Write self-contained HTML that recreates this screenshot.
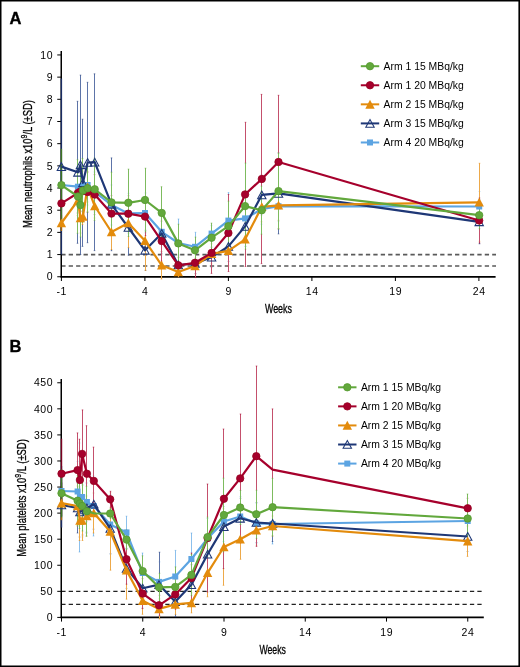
<!DOCTYPE html>
<html><head><meta charset="utf-8"><style>html,body{margin:0;padding:0;background:#fff;overflow:hidden}svg{display:block;will-change:transform}</style></head>
<body>
<svg width="520" height="667" viewBox="0 0 520 667">
<style>
text{font-family:"Liberation Sans",sans-serif;fill:#000}
.tk{font-size:10.5px;letter-spacing:0.6px}
.lg{font-size:10px}
.ti{font-size:12.8px;stroke:#000;stroke-width:0.3px}
.pl{font-size:16.5px;font-weight:bold;stroke:#000;stroke-width:0.35px}
</style>
<rect x="0" y="0" width="520" height="667" fill="#fff"/>
<path d="M0 0H520V667H0Z M1.5 1.5V665.4H518.4V1.5Z" fill="#000" fill-rule="evenodd"/>
<text x="9.6" y="23.8" class="pl">A</text>
<text x="9.5" y="351.9" class="pl">B</text>
<line x1="61.25" y1="254.60" x2="496" y2="254.60" stroke="#5a5a5a" stroke-width="1.7" stroke-dasharray="4.3 3.13"/>
<line x1="61.25" y1="266.00" x2="496" y2="266.00" stroke="#5a5a5a" stroke-width="1.7" stroke-dasharray="4.3 3.13"/>
<line x1="61.25" y1="51.0" x2="61.25" y2="277.60" stroke="#000" stroke-width="1.5"/>
<line x1="60.65" y1="276.80" x2="495.6" y2="276.80" stroke="#000" stroke-width="1.7"/>
<line x1="57.25" y1="276.75" x2="61.25" y2="276.75" stroke="#000" stroke-width="1"/>
<text x="53.25" y="280.45" class="tk" text-anchor="end">0</text>
<line x1="57.25" y1="254.57" x2="61.25" y2="254.57" stroke="#000" stroke-width="1"/>
<text x="53.25" y="258.27" class="tk" text-anchor="end">1</text>
<line x1="57.25" y1="232.39" x2="61.25" y2="232.39" stroke="#000" stroke-width="1"/>
<text x="53.25" y="236.09" class="tk" text-anchor="end">2</text>
<line x1="57.25" y1="210.21" x2="61.25" y2="210.21" stroke="#000" stroke-width="1"/>
<text x="53.25" y="213.91" class="tk" text-anchor="end">3</text>
<line x1="57.25" y1="188.03" x2="61.25" y2="188.03" stroke="#000" stroke-width="1"/>
<text x="53.25" y="191.73" class="tk" text-anchor="end">4</text>
<line x1="57.25" y1="165.85" x2="61.25" y2="165.85" stroke="#000" stroke-width="1"/>
<text x="53.25" y="169.55" class="tk" text-anchor="end">5</text>
<line x1="57.25" y1="143.67" x2="61.25" y2="143.67" stroke="#000" stroke-width="1"/>
<text x="53.25" y="147.37" class="tk" text-anchor="end">6</text>
<line x1="57.25" y1="121.49" x2="61.25" y2="121.49" stroke="#000" stroke-width="1"/>
<text x="53.25" y="125.19" class="tk" text-anchor="end">7</text>
<line x1="57.25" y1="99.31" x2="61.25" y2="99.31" stroke="#000" stroke-width="1"/>
<text x="53.25" y="103.01" class="tk" text-anchor="end">8</text>
<line x1="57.25" y1="77.13" x2="61.25" y2="77.13" stroke="#000" stroke-width="1"/>
<text x="53.25" y="80.83" class="tk" text-anchor="end">9</text>
<line x1="57.25" y1="54.95" x2="61.25" y2="54.95" stroke="#000" stroke-width="1"/>
<text x="53.25" y="58.65" class="tk" text-anchor="end">10</text>
<line x1="61.40" y1="276.80" x2="61.40" y2="281.00" stroke="#000" stroke-width="1"/>
<text x="61.70" y="295.00" class="tk" text-anchor="middle">-1</text>
<line x1="144.90" y1="276.80" x2="144.90" y2="281.00" stroke="#000" stroke-width="1"/>
<text x="145.20" y="295.00" class="tk" text-anchor="middle">4</text>
<line x1="228.40" y1="276.80" x2="228.40" y2="281.00" stroke="#000" stroke-width="1"/>
<text x="228.70" y="295.00" class="tk" text-anchor="middle">9</text>
<line x1="311.90" y1="276.80" x2="311.90" y2="281.00" stroke="#000" stroke-width="1"/>
<text x="312.20" y="295.00" class="tk" text-anchor="middle">14</text>
<line x1="395.40" y1="276.80" x2="395.40" y2="281.00" stroke="#000" stroke-width="1"/>
<text x="395.70" y="295.00" class="tk" text-anchor="middle">19</text>
<line x1="478.90" y1="276.80" x2="478.90" y2="281.00" stroke="#000" stroke-width="1"/>
<text x="479.20" y="295.00" class="tk" text-anchor="middle">24</text>
<line x1="61.25" y1="591.33" x2="482" y2="591.33" stroke="#222" stroke-width="1.15" stroke-dasharray="4.3 3.13"/>
<line x1="61.25" y1="604.37" x2="482" y2="604.37" stroke="#222" stroke-width="1.15" stroke-dasharray="4.3 3.13"/>
<line x1="61.25" y1="379.0" x2="61.25" y2="618.20" stroke="#000" stroke-width="1.5"/>
<line x1="60.65" y1="617.40" x2="483.8" y2="617.40" stroke="#000" stroke-width="1.7"/>
<line x1="57.25" y1="617.40" x2="61.25" y2="617.40" stroke="#000" stroke-width="1"/>
<text x="53.25" y="621.10" class="tk" text-anchor="end">0</text>
<line x1="57.25" y1="591.33" x2="61.25" y2="591.33" stroke="#000" stroke-width="1"/>
<text x="53.25" y="595.03" class="tk" text-anchor="end">50</text>
<line x1="57.25" y1="565.26" x2="61.25" y2="565.26" stroke="#000" stroke-width="1"/>
<text x="53.25" y="568.96" class="tk" text-anchor="end">100</text>
<line x1="57.25" y1="539.19" x2="61.25" y2="539.19" stroke="#000" stroke-width="1"/>
<text x="53.25" y="542.89" class="tk" text-anchor="end">150</text>
<line x1="57.25" y1="513.12" x2="61.25" y2="513.12" stroke="#000" stroke-width="1"/>
<text x="53.25" y="516.82" class="tk" text-anchor="end">200</text>
<line x1="57.25" y1="487.05" x2="61.25" y2="487.05" stroke="#000" stroke-width="1"/>
<text x="53.25" y="490.75" class="tk" text-anchor="end">250</text>
<line x1="57.25" y1="460.98" x2="61.25" y2="460.98" stroke="#000" stroke-width="1"/>
<text x="53.25" y="464.68" class="tk" text-anchor="end">300</text>
<line x1="57.25" y1="434.91" x2="61.25" y2="434.91" stroke="#000" stroke-width="1"/>
<text x="53.25" y="438.61" class="tk" text-anchor="end">350</text>
<line x1="57.25" y1="408.84" x2="61.25" y2="408.84" stroke="#000" stroke-width="1"/>
<text x="53.25" y="412.54" class="tk" text-anchor="end">400</text>
<line x1="57.25" y1="382.77" x2="61.25" y2="382.77" stroke="#000" stroke-width="1"/>
<text x="53.25" y="386.47" class="tk" text-anchor="end">450</text>
<line x1="61.50" y1="617.40" x2="61.50" y2="621.60" stroke="#000" stroke-width="1"/>
<text x="61.80" y="635.60" class="tk" text-anchor="middle">-1</text>
<line x1="142.75" y1="617.40" x2="142.75" y2="621.60" stroke="#000" stroke-width="1"/>
<text x="143.05" y="635.60" class="tk" text-anchor="middle">4</text>
<line x1="224.00" y1="617.40" x2="224.00" y2="621.60" stroke="#000" stroke-width="1"/>
<text x="224.30" y="635.60" class="tk" text-anchor="middle">9</text>
<line x1="305.25" y1="617.40" x2="305.25" y2="621.60" stroke="#000" stroke-width="1"/>
<text x="305.55" y="635.60" class="tk" text-anchor="middle">14</text>
<line x1="386.50" y1="617.40" x2="386.50" y2="621.60" stroke="#000" stroke-width="1"/>
<text x="386.80" y="635.60" class="tk" text-anchor="middle">19</text>
<line x1="467.75" y1="617.40" x2="467.75" y2="621.60" stroke="#000" stroke-width="1"/>
<text x="468.05" y="635.60" class="tk" text-anchor="middle">24</text>
<line x1="61.40" y1="165.00" x2="61.40" y2="205.00" stroke="#3D78A8" stroke-width="1.4"/>
<line x1="77.50" y1="166.70" x2="77.50" y2="206.70" stroke="#8CC0EC" stroke-width="1"/>
<rect x="76.70" y="166.20" width="1.6" height="1" fill="#5CA4E2" opacity="0.55"/>
<rect x="76.70" y="206.20" width="1.6" height="1" fill="#5CA4E2" opacity="0.55"/>
<line x1="80.50" y1="167.00" x2="80.50" y2="207.00" stroke="#8CC0EC" stroke-width="1"/>
<rect x="79.70" y="166.50" width="1.6" height="1" fill="#5CA4E2" opacity="0.55"/>
<rect x="79.70" y="206.50" width="1.6" height="1" fill="#5CA4E2" opacity="0.55"/>
<line x1="82.50" y1="166.00" x2="82.50" y2="206.00" stroke="#8CC0EC" stroke-width="1"/>
<rect x="81.70" y="165.50" width="1.6" height="1" fill="#5CA4E2" opacity="0.55"/>
<rect x="81.70" y="205.50" width="1.6" height="1" fill="#5CA4E2" opacity="0.55"/>
<line x1="87.50" y1="165.00" x2="87.50" y2="205.00" stroke="#8CC0EC" stroke-width="1"/>
<rect x="86.70" y="164.50" width="1.6" height="1" fill="#5CA4E2" opacity="0.55"/>
<rect x="86.70" y="204.50" width="1.6" height="1" fill="#5CA4E2" opacity="0.55"/>
<line x1="94.50" y1="172.00" x2="94.50" y2="212.00" stroke="#8CC0EC" stroke-width="1"/>
<rect x="93.70" y="171.50" width="1.6" height="1" fill="#5CA4E2" opacity="0.55"/>
<rect x="93.70" y="211.50" width="1.6" height="1" fill="#5CA4E2" opacity="0.55"/>
<line x1="111.50" y1="185.00" x2="111.50" y2="225.00" stroke="#8CC0EC" stroke-width="1"/>
<rect x="110.70" y="184.50" width="1.6" height="1" fill="#5CA4E2" opacity="0.55"/>
<rect x="110.70" y="224.50" width="1.6" height="1" fill="#5CA4E2" opacity="0.55"/>
<line x1="128.50" y1="193.40" x2="128.50" y2="233.40" stroke="#8CC0EC" stroke-width="1"/>
<rect x="127.70" y="192.90" width="1.6" height="1" fill="#5CA4E2" opacity="0.55"/>
<rect x="127.70" y="232.90" width="1.6" height="1" fill="#5CA4E2" opacity="0.55"/>
<line x1="145.50" y1="193.00" x2="145.50" y2="233.00" stroke="#8CC0EC" stroke-width="1"/>
<rect x="144.70" y="192.50" width="1.6" height="1" fill="#5CA4E2" opacity="0.55"/>
<rect x="144.70" y="232.50" width="1.6" height="1" fill="#5CA4E2" opacity="0.55"/>
<line x1="161.50" y1="211.80" x2="161.50" y2="251.80" stroke="#8CC0EC" stroke-width="1"/>
<rect x="160.70" y="211.30" width="1.6" height="1" fill="#5CA4E2" opacity="0.55"/>
<rect x="160.70" y="251.30" width="1.6" height="1" fill="#5CA4E2" opacity="0.55"/>
<line x1="178.50" y1="219.00" x2="178.50" y2="267.00" stroke="#8CC0EC" stroke-width="1"/>
<rect x="177.70" y="218.50" width="1.6" height="1" fill="#5CA4E2" opacity="0.55"/>
<rect x="177.70" y="266.50" width="1.6" height="1" fill="#5CA4E2" opacity="0.55"/>
<line x1="195.50" y1="232.30" x2="195.50" y2="261.30" stroke="#8CC0EC" stroke-width="1"/>
<rect x="194.70" y="231.80" width="1.6" height="1" fill="#5CA4E2" opacity="0.55"/>
<rect x="194.70" y="260.80" width="1.6" height="1" fill="#5CA4E2" opacity="0.55"/>
<line x1="211.50" y1="225.60" x2="211.50" y2="241.60" stroke="#8CC0EC" stroke-width="1"/>
<rect x="210.70" y="225.10" width="1.6" height="1" fill="#5CA4E2" opacity="0.55"/>
<rect x="210.70" y="241.10" width="1.6" height="1" fill="#5CA4E2" opacity="0.55"/>
<line x1="228.50" y1="192.60" x2="228.50" y2="248.60" stroke="#8CC0EC" stroke-width="1"/>
<rect x="227.70" y="192.10" width="1.6" height="1" fill="#5CA4E2" opacity="0.55"/>
<rect x="227.70" y="248.10" width="1.6" height="1" fill="#5CA4E2" opacity="0.55"/>
<line x1="245.50" y1="198.40" x2="245.50" y2="238.40" stroke="#8CC0EC" stroke-width="1"/>
<rect x="244.70" y="197.90" width="1.6" height="1" fill="#5CA4E2" opacity="0.55"/>
<rect x="244.70" y="237.90" width="1.6" height="1" fill="#5CA4E2" opacity="0.55"/>
<line x1="261.50" y1="194.20" x2="261.50" y2="224.20" stroke="#8CC0EC" stroke-width="1"/>
<rect x="260.70" y="193.70" width="1.6" height="1" fill="#5CA4E2" opacity="0.55"/>
<rect x="260.70" y="223.70" width="1.6" height="1" fill="#5CA4E2" opacity="0.55"/>
<line x1="278.50" y1="191.20" x2="278.50" y2="221.20" stroke="#8CC0EC" stroke-width="1"/>
<rect x="277.70" y="190.70" width="1.6" height="1" fill="#5CA4E2" opacity="0.55"/>
<rect x="277.70" y="220.70" width="1.6" height="1" fill="#5CA4E2" opacity="0.55"/>
<line x1="479.50" y1="191.50" x2="479.50" y2="221.50" stroke="#8CC0EC" stroke-width="1"/>
<rect x="478.70" y="191.00" width="1.6" height="1" fill="#5CA4E2" opacity="0.55"/>
<rect x="478.70" y="221.00" width="1.6" height="1" fill="#5CA4E2" opacity="0.55"/>
<line x1="61.40" y1="78.60" x2="61.40" y2="254.60" stroke="#1A2C62" stroke-width="1.4"/>
<line x1="77.50" y1="101.30" x2="77.50" y2="243.30" stroke="#5D74A8" stroke-width="1"/>
<rect x="76.70" y="100.80" width="1.6" height="1" fill="#1E3776" opacity="0.55"/>
<rect x="76.70" y="242.80" width="1.6" height="1" fill="#1E3776" opacity="0.55"/>
<line x1="80.50" y1="75.10" x2="80.50" y2="254.50" stroke="#5D74A8" stroke-width="1"/>
<rect x="79.70" y="74.60" width="1.6" height="1" fill="#1E3776" opacity="0.55"/>
<rect x="79.70" y="254.00" width="1.6" height="1" fill="#1E3776" opacity="0.55"/>
<line x1="82.50" y1="119.20" x2="82.50" y2="246.40" stroke="#5D74A8" stroke-width="1"/>
<rect x="81.70" y="118.70" width="1.6" height="1" fill="#1E3776" opacity="0.55"/>
<rect x="81.70" y="245.90" width="1.6" height="1" fill="#1E3776" opacity="0.55"/>
<line x1="87.50" y1="82.30" x2="87.50" y2="242.70" stroke="#5D74A8" stroke-width="1"/>
<rect x="86.70" y="81.80" width="1.6" height="1" fill="#1E3776" opacity="0.55"/>
<rect x="86.70" y="242.20" width="1.6" height="1" fill="#1E3776" opacity="0.55"/>
<line x1="94.50" y1="73.80" x2="94.50" y2="250.60" stroke="#5D74A8" stroke-width="1"/>
<rect x="93.70" y="73.30" width="1.6" height="1" fill="#1E3776" opacity="0.55"/>
<rect x="93.70" y="250.10" width="1.6" height="1" fill="#1E3776" opacity="0.55"/>
<line x1="111.50" y1="157.90" x2="111.50" y2="250.70" stroke="#5D74A8" stroke-width="1"/>
<rect x="110.70" y="157.40" width="1.6" height="1" fill="#1E3776" opacity="0.55"/>
<rect x="110.70" y="250.20" width="1.6" height="1" fill="#1E3776" opacity="0.55"/>
<line x1="128.50" y1="199.90" x2="128.50" y2="255.10" stroke="#5D74A8" stroke-width="1"/>
<rect x="127.70" y="199.40" width="1.6" height="1" fill="#1E3776" opacity="0.55"/>
<rect x="127.70" y="254.60" width="1.6" height="1" fill="#1E3776" opacity="0.55"/>
<line x1="145.50" y1="230.30" x2="145.50" y2="270.30" stroke="#5D74A8" stroke-width="1"/>
<rect x="144.70" y="229.80" width="1.6" height="1" fill="#1E3776" opacity="0.55"/>
<rect x="144.70" y="269.80" width="1.6" height="1" fill="#1E3776" opacity="0.55"/>
<line x1="161.50" y1="213.50" x2="161.50" y2="253.50" stroke="#5D74A8" stroke-width="1"/>
<rect x="160.70" y="213.00" width="1.6" height="1" fill="#1E3776" opacity="0.55"/>
<rect x="160.70" y="253.00" width="1.6" height="1" fill="#1E3776" opacity="0.55"/>
<line x1="178.50" y1="255.00" x2="178.50" y2="275.00" stroke="#5D74A8" stroke-width="1"/>
<rect x="177.70" y="254.50" width="1.6" height="1" fill="#1E3776" opacity="0.55"/>
<rect x="177.70" y="274.50" width="1.6" height="1" fill="#1E3776" opacity="0.55"/>
<line x1="195.50" y1="253.50" x2="195.50" y2="273.50" stroke="#5D74A8" stroke-width="1"/>
<rect x="194.70" y="253.00" width="1.6" height="1" fill="#1E3776" opacity="0.55"/>
<rect x="194.70" y="273.00" width="1.6" height="1" fill="#1E3776" opacity="0.55"/>
<line x1="211.50" y1="247.20" x2="211.50" y2="267.20" stroke="#5D74A8" stroke-width="1"/>
<rect x="210.70" y="246.70" width="1.6" height="1" fill="#1E3776" opacity="0.55"/>
<rect x="210.70" y="266.70" width="1.6" height="1" fill="#1E3776" opacity="0.55"/>
<line x1="228.50" y1="231.40" x2="228.50" y2="261.40" stroke="#5D74A8" stroke-width="1"/>
<rect x="227.70" y="230.90" width="1.6" height="1" fill="#1E3776" opacity="0.55"/>
<rect x="227.70" y="260.90" width="1.6" height="1" fill="#1E3776" opacity="0.55"/>
<line x1="245.50" y1="206.40" x2="245.50" y2="246.40" stroke="#5D74A8" stroke-width="1"/>
<rect x="244.70" y="205.90" width="1.6" height="1" fill="#1E3776" opacity="0.55"/>
<rect x="244.70" y="245.90" width="1.6" height="1" fill="#1E3776" opacity="0.55"/>
<line x1="261.50" y1="174.90" x2="261.50" y2="214.90" stroke="#5D74A8" stroke-width="1"/>
<rect x="260.70" y="174.40" width="1.6" height="1" fill="#1E3776" opacity="0.55"/>
<rect x="260.70" y="214.40" width="1.6" height="1" fill="#1E3776" opacity="0.55"/>
<line x1="278.50" y1="152.90" x2="278.50" y2="233.90" stroke="#5D74A8" stroke-width="1"/>
<rect x="277.70" y="152.40" width="1.6" height="1" fill="#1E3776" opacity="0.55"/>
<rect x="277.70" y="233.40" width="1.6" height="1" fill="#1E3776" opacity="0.55"/>
<line x1="479.50" y1="199.80" x2="479.50" y2="243.80" stroke="#5D74A8" stroke-width="1"/>
<rect x="478.70" y="199.30" width="1.6" height="1" fill="#1E3776" opacity="0.55"/>
<rect x="478.70" y="243.30" width="1.6" height="1" fill="#1E3776" opacity="0.55"/>
<line x1="61.40" y1="215.00" x2="61.40" y2="231.00" stroke="#A86608" stroke-width="1.4"/>
<line x1="77.50" y1="185.50" x2="77.50" y2="215.50" stroke="#EDA94A" stroke-width="1"/>
<rect x="76.70" y="185.00" width="1.6" height="1" fill="#E38B0C" opacity="0.55"/>
<rect x="76.70" y="215.00" width="1.6" height="1" fill="#E38B0C" opacity="0.55"/>
<line x1="80.50" y1="203.00" x2="80.50" y2="233.00" stroke="#EDA94A" stroke-width="1"/>
<rect x="79.70" y="202.50" width="1.6" height="1" fill="#E38B0C" opacity="0.55"/>
<rect x="79.70" y="232.50" width="1.6" height="1" fill="#E38B0C" opacity="0.55"/>
<line x1="82.50" y1="208.50" x2="82.50" y2="224.50" stroke="#EDA94A" stroke-width="1"/>
<rect x="81.70" y="208.00" width="1.6" height="1" fill="#E38B0C" opacity="0.55"/>
<rect x="81.70" y="224.00" width="1.6" height="1" fill="#E38B0C" opacity="0.55"/>
<line x1="87.50" y1="172.00" x2="87.50" y2="202.00" stroke="#EDA94A" stroke-width="1"/>
<rect x="86.70" y="171.50" width="1.6" height="1" fill="#E38B0C" opacity="0.55"/>
<rect x="86.70" y="201.50" width="1.6" height="1" fill="#E38B0C" opacity="0.55"/>
<line x1="94.50" y1="194.00" x2="94.50" y2="218.00" stroke="#EDA94A" stroke-width="1"/>
<rect x="93.70" y="193.50" width="1.6" height="1" fill="#E38B0C" opacity="0.55"/>
<rect x="93.70" y="217.50" width="1.6" height="1" fill="#E38B0C" opacity="0.55"/>
<line x1="111.50" y1="214.50" x2="111.50" y2="249.50" stroke="#EDA94A" stroke-width="1"/>
<rect x="110.70" y="214.00" width="1.6" height="1" fill="#E38B0C" opacity="0.55"/>
<rect x="110.70" y="249.00" width="1.6" height="1" fill="#E38B0C" opacity="0.55"/>
<line x1="128.50" y1="198.40" x2="128.50" y2="247.60" stroke="#EDA94A" stroke-width="1"/>
<rect x="127.70" y="197.90" width="1.6" height="1" fill="#E38B0C" opacity="0.55"/>
<rect x="127.70" y="247.10" width="1.6" height="1" fill="#E38B0C" opacity="0.55"/>
<line x1="145.50" y1="211.20" x2="145.50" y2="270.40" stroke="#EDA94A" stroke-width="1"/>
<rect x="144.70" y="210.70" width="1.6" height="1" fill="#E38B0C" opacity="0.55"/>
<rect x="144.70" y="269.90" width="1.6" height="1" fill="#E38B0C" opacity="0.55"/>
<line x1="161.50" y1="251.60" x2="161.50" y2="279.00" stroke="#EDA94A" stroke-width="1"/>
<rect x="160.70" y="251.10" width="1.6" height="1" fill="#E38B0C" opacity="0.55"/>
<rect x="160.70" y="278.50" width="1.6" height="1" fill="#E38B0C" opacity="0.55"/>
<line x1="178.50" y1="267.00" x2="178.50" y2="277.00" stroke="#EDA94A" stroke-width="1"/>
<rect x="177.70" y="266.50" width="1.6" height="1" fill="#E38B0C" opacity="0.55"/>
<rect x="177.70" y="276.50" width="1.6" height="1" fill="#E38B0C" opacity="0.55"/>
<line x1="195.50" y1="258.00" x2="195.50" y2="274.00" stroke="#EDA94A" stroke-width="1"/>
<rect x="194.70" y="257.50" width="1.6" height="1" fill="#E38B0C" opacity="0.55"/>
<rect x="194.70" y="273.50" width="1.6" height="1" fill="#E38B0C" opacity="0.55"/>
<line x1="211.50" y1="243.80" x2="211.50" y2="263.80" stroke="#EDA94A" stroke-width="1"/>
<rect x="210.70" y="243.30" width="1.6" height="1" fill="#E38B0C" opacity="0.55"/>
<rect x="210.70" y="263.30" width="1.6" height="1" fill="#E38B0C" opacity="0.55"/>
<line x1="228.50" y1="235.80" x2="228.50" y2="265.80" stroke="#EDA94A" stroke-width="1"/>
<rect x="227.70" y="235.30" width="1.6" height="1" fill="#E38B0C" opacity="0.55"/>
<rect x="227.70" y="265.30" width="1.6" height="1" fill="#E38B0C" opacity="0.55"/>
<line x1="245.50" y1="224.30" x2="245.50" y2="254.30" stroke="#EDA94A" stroke-width="1"/>
<rect x="244.70" y="223.80" width="1.6" height="1" fill="#E38B0C" opacity="0.55"/>
<rect x="244.70" y="253.80" width="1.6" height="1" fill="#E38B0C" opacity="0.55"/>
<line x1="261.50" y1="191.80" x2="261.50" y2="221.80" stroke="#EDA94A" stroke-width="1"/>
<rect x="260.70" y="191.30" width="1.6" height="1" fill="#E38B0C" opacity="0.55"/>
<rect x="260.70" y="221.30" width="1.6" height="1" fill="#E38B0C" opacity="0.55"/>
<line x1="278.50" y1="190.30" x2="278.50" y2="220.30" stroke="#EDA94A" stroke-width="1"/>
<rect x="277.70" y="189.80" width="1.6" height="1" fill="#E38B0C" opacity="0.55"/>
<rect x="277.70" y="219.80" width="1.6" height="1" fill="#E38B0C" opacity="0.55"/>
<line x1="479.50" y1="163.30" x2="479.50" y2="241.30" stroke="#EDA94A" stroke-width="1"/>
<rect x="478.70" y="162.80" width="1.6" height="1" fill="#E38B0C" opacity="0.55"/>
<rect x="478.70" y="240.80" width="1.6" height="1" fill="#E38B0C" opacity="0.55"/>
<line x1="61.40" y1="183.40" x2="61.40" y2="223.40" stroke="#7A0020" stroke-width="1.4"/>
<line x1="77.50" y1="173.00" x2="77.50" y2="213.00" stroke="#C4506C" stroke-width="1"/>
<rect x="76.70" y="172.50" width="1.6" height="1" fill="#A6002C" opacity="0.55"/>
<rect x="76.70" y="212.50" width="1.6" height="1" fill="#A6002C" opacity="0.55"/>
<line x1="80.50" y1="171.50" x2="80.50" y2="211.50" stroke="#C4506C" stroke-width="1"/>
<rect x="79.70" y="171.00" width="1.6" height="1" fill="#A6002C" opacity="0.55"/>
<rect x="79.70" y="211.00" width="1.6" height="1" fill="#A6002C" opacity="0.55"/>
<line x1="82.50" y1="171.00" x2="82.50" y2="211.00" stroke="#C4506C" stroke-width="1"/>
<rect x="81.70" y="170.50" width="1.6" height="1" fill="#A6002C" opacity="0.55"/>
<rect x="81.70" y="210.50" width="1.6" height="1" fill="#A6002C" opacity="0.55"/>
<line x1="87.50" y1="172.00" x2="87.50" y2="212.00" stroke="#C4506C" stroke-width="1"/>
<rect x="86.70" y="171.50" width="1.6" height="1" fill="#A6002C" opacity="0.55"/>
<rect x="86.70" y="211.50" width="1.6" height="1" fill="#A6002C" opacity="0.55"/>
<line x1="94.50" y1="174.60" x2="94.50" y2="214.60" stroke="#C4506C" stroke-width="1"/>
<rect x="93.70" y="174.10" width="1.6" height="1" fill="#A6002C" opacity="0.55"/>
<rect x="93.70" y="214.10" width="1.6" height="1" fill="#A6002C" opacity="0.55"/>
<line x1="111.50" y1="195.60" x2="111.50" y2="231.60" stroke="#C4506C" stroke-width="1"/>
<rect x="110.70" y="195.10" width="1.6" height="1" fill="#A6002C" opacity="0.55"/>
<rect x="110.70" y="231.10" width="1.6" height="1" fill="#A6002C" opacity="0.55"/>
<line x1="128.50" y1="195.70" x2="128.50" y2="231.70" stroke="#C4506C" stroke-width="1"/>
<rect x="127.70" y="195.20" width="1.6" height="1" fill="#A6002C" opacity="0.55"/>
<rect x="127.70" y="231.20" width="1.6" height="1" fill="#A6002C" opacity="0.55"/>
<line x1="145.50" y1="197.60" x2="145.50" y2="235.60" stroke="#C4506C" stroke-width="1"/>
<rect x="144.70" y="197.10" width="1.6" height="1" fill="#A6002C" opacity="0.55"/>
<rect x="144.70" y="235.10" width="1.6" height="1" fill="#A6002C" opacity="0.55"/>
<line x1="161.50" y1="221.10" x2="161.50" y2="261.10" stroke="#C4506C" stroke-width="1"/>
<rect x="160.70" y="220.60" width="1.6" height="1" fill="#A6002C" opacity="0.55"/>
<rect x="160.70" y="260.60" width="1.6" height="1" fill="#A6002C" opacity="0.55"/>
<line x1="178.50" y1="257.30" x2="178.50" y2="273.30" stroke="#C4506C" stroke-width="1"/>
<rect x="177.70" y="256.80" width="1.6" height="1" fill="#A6002C" opacity="0.55"/>
<rect x="177.70" y="272.80" width="1.6" height="1" fill="#A6002C" opacity="0.55"/>
<line x1="195.50" y1="248.00" x2="195.50" y2="277.60" stroke="#C4506C" stroke-width="1"/>
<rect x="194.70" y="247.50" width="1.6" height="1" fill="#A6002C" opacity="0.55"/>
<rect x="194.70" y="277.10" width="1.6" height="1" fill="#A6002C" opacity="0.55"/>
<line x1="211.50" y1="232.40" x2="211.50" y2="273.40" stroke="#C4506C" stroke-width="1"/>
<rect x="210.70" y="231.90" width="1.6" height="1" fill="#A6002C" opacity="0.55"/>
<rect x="210.70" y="272.90" width="1.6" height="1" fill="#A6002C" opacity="0.55"/>
<line x1="228.50" y1="194.50" x2="228.50" y2="271.50" stroke="#C4506C" stroke-width="1"/>
<rect x="227.70" y="194.00" width="1.6" height="1" fill="#A6002C" opacity="0.55"/>
<rect x="227.70" y="271.00" width="1.6" height="1" fill="#A6002C" opacity="0.55"/>
<line x1="245.50" y1="122.30" x2="245.50" y2="266.50" stroke="#C4506C" stroke-width="1"/>
<rect x="244.70" y="121.80" width="1.6" height="1" fill="#A6002C" opacity="0.55"/>
<rect x="244.70" y="266.00" width="1.6" height="1" fill="#A6002C" opacity="0.55"/>
<line x1="261.50" y1="94.40" x2="261.50" y2="263.60" stroke="#C4506C" stroke-width="1"/>
<rect x="260.70" y="93.90" width="1.6" height="1" fill="#A6002C" opacity="0.55"/>
<rect x="260.70" y="263.10" width="1.6" height="1" fill="#A6002C" opacity="0.55"/>
<line x1="278.50" y1="95.30" x2="278.50" y2="228.70" stroke="#C4506C" stroke-width="1"/>
<rect x="277.70" y="94.80" width="1.6" height="1" fill="#A6002C" opacity="0.55"/>
<rect x="277.70" y="228.20" width="1.6" height="1" fill="#A6002C" opacity="0.55"/>
<line x1="479.50" y1="198.00" x2="479.50" y2="243.00" stroke="#C4506C" stroke-width="1"/>
<rect x="478.70" y="197.50" width="1.6" height="1" fill="#A6002C" opacity="0.55"/>
<rect x="478.70" y="242.50" width="1.6" height="1" fill="#A6002C" opacity="0.55"/>
<line x1="61.40" y1="148.80" x2="61.40" y2="221.40" stroke="#3E7424" stroke-width="1.4"/>
<line x1="77.50" y1="159.70" x2="77.50" y2="233.30" stroke="#7DBB5E" stroke-width="1"/>
<rect x="76.70" y="159.20" width="1.6" height="1" fill="#62A83C" opacity="0.55"/>
<rect x="76.70" y="232.80" width="1.6" height="1" fill="#62A83C" opacity="0.55"/>
<line x1="80.50" y1="173.00" x2="80.50" y2="237.00" stroke="#7DBB5E" stroke-width="1"/>
<rect x="79.70" y="172.50" width="1.6" height="1" fill="#62A83C" opacity="0.55"/>
<rect x="79.70" y="236.50" width="1.6" height="1" fill="#62A83C" opacity="0.55"/>
<line x1="82.50" y1="158.50" x2="82.50" y2="222.50" stroke="#7DBB5E" stroke-width="1"/>
<rect x="81.70" y="158.00" width="1.6" height="1" fill="#62A83C" opacity="0.55"/>
<rect x="81.70" y="222.00" width="1.6" height="1" fill="#62A83C" opacity="0.55"/>
<line x1="87.50" y1="164.30" x2="87.50" y2="212.30" stroke="#7DBB5E" stroke-width="1"/>
<rect x="86.70" y="163.80" width="1.6" height="1" fill="#62A83C" opacity="0.55"/>
<rect x="86.70" y="211.80" width="1.6" height="1" fill="#62A83C" opacity="0.55"/>
<line x1="94.50" y1="158.20" x2="94.50" y2="220.40" stroke="#7DBB5E" stroke-width="1"/>
<rect x="93.70" y="157.70" width="1.6" height="1" fill="#62A83C" opacity="0.55"/>
<rect x="93.70" y="219.90" width="1.6" height="1" fill="#62A83C" opacity="0.55"/>
<line x1="111.50" y1="172.20" x2="111.50" y2="232.60" stroke="#7DBB5E" stroke-width="1"/>
<rect x="110.70" y="171.70" width="1.6" height="1" fill="#62A83C" opacity="0.55"/>
<rect x="110.70" y="232.10" width="1.6" height="1" fill="#62A83C" opacity="0.55"/>
<line x1="128.50" y1="169.10" x2="128.50" y2="236.50" stroke="#7DBB5E" stroke-width="1"/>
<rect x="127.70" y="168.60" width="1.6" height="1" fill="#62A83C" opacity="0.55"/>
<rect x="127.70" y="236.00" width="1.6" height="1" fill="#62A83C" opacity="0.55"/>
<line x1="145.50" y1="168.20" x2="145.50" y2="231.80" stroke="#7DBB5E" stroke-width="1"/>
<rect x="144.70" y="167.70" width="1.6" height="1" fill="#62A83C" opacity="0.55"/>
<rect x="144.70" y="231.30" width="1.6" height="1" fill="#62A83C" opacity="0.55"/>
<line x1="161.50" y1="186.70" x2="161.50" y2="239.10" stroke="#7DBB5E" stroke-width="1"/>
<rect x="160.70" y="186.20" width="1.6" height="1" fill="#62A83C" opacity="0.55"/>
<rect x="160.70" y="238.60" width="1.6" height="1" fill="#62A83C" opacity="0.55"/>
<line x1="178.50" y1="224.20" x2="178.50" y2="262.60" stroke="#7DBB5E" stroke-width="1"/>
<rect x="177.70" y="223.70" width="1.6" height="1" fill="#62A83C" opacity="0.55"/>
<rect x="177.70" y="262.10" width="1.6" height="1" fill="#62A83C" opacity="0.55"/>
<line x1="195.50" y1="237.10" x2="195.50" y2="263.50" stroke="#7DBB5E" stroke-width="1"/>
<rect x="194.70" y="236.60" width="1.6" height="1" fill="#62A83C" opacity="0.55"/>
<rect x="194.70" y="263.00" width="1.6" height="1" fill="#62A83C" opacity="0.55"/>
<line x1="211.50" y1="223.10" x2="211.50" y2="252.30" stroke="#7DBB5E" stroke-width="1"/>
<rect x="210.70" y="222.60" width="1.6" height="1" fill="#62A83C" opacity="0.55"/>
<rect x="210.70" y="251.80" width="1.6" height="1" fill="#62A83C" opacity="0.55"/>
<line x1="228.50" y1="201.20" x2="228.50" y2="251.20" stroke="#7DBB5E" stroke-width="1"/>
<rect x="227.70" y="200.70" width="1.6" height="1" fill="#62A83C" opacity="0.55"/>
<rect x="227.70" y="250.70" width="1.6" height="1" fill="#62A83C" opacity="0.55"/>
<line x1="245.50" y1="163.10" x2="245.50" y2="249.10" stroke="#7DBB5E" stroke-width="1"/>
<rect x="244.70" y="162.60" width="1.6" height="1" fill="#62A83C" opacity="0.55"/>
<rect x="244.70" y="248.60" width="1.6" height="1" fill="#62A83C" opacity="0.55"/>
<line x1="261.50" y1="186.20" x2="261.50" y2="234.20" stroke="#7DBB5E" stroke-width="1"/>
<rect x="260.70" y="185.70" width="1.6" height="1" fill="#62A83C" opacity="0.55"/>
<rect x="260.70" y="233.70" width="1.6" height="1" fill="#62A83C" opacity="0.55"/>
<line x1="278.50" y1="153.10" x2="278.50" y2="229.10" stroke="#7DBB5E" stroke-width="1"/>
<rect x="277.70" y="152.60" width="1.6" height="1" fill="#62A83C" opacity="0.55"/>
<rect x="277.70" y="228.60" width="1.6" height="1" fill="#62A83C" opacity="0.55"/>
<line x1="479.50" y1="201.70" x2="479.50" y2="228.70" stroke="#7DBB5E" stroke-width="1"/>
<rect x="478.70" y="201.20" width="1.6" height="1" fill="#62A83C" opacity="0.55"/>
<rect x="478.70" y="228.20" width="1.6" height="1" fill="#62A83C" opacity="0.55"/>
<path d="M61.40 185.00 L77.90 186.70 L80.40 187.00 L82.90 186.00 L87.60 185.00 L94.70 192.00 L111.50 205.00 L128.30 213.40 L145.00 213.00 L161.70 231.80 L178.30 243.00 L195.00 246.80 L211.60 233.60 L228.40 220.60 L245.10 218.40 L261.80 209.20 L278.50 206.20 L479.20 206.50" fill="none" stroke="#5CA4E2" stroke-width="2.2" stroke-linejoin="round"/>
<rect x="58.40" y="182.00" width="6" height="6" fill="#5CA4E2"/>
<rect x="74.90" y="183.70" width="6" height="6" fill="#5CA4E2"/>
<rect x="77.40" y="184.00" width="6" height="6" fill="#5CA4E2"/>
<rect x="79.90" y="183.00" width="6" height="6" fill="#5CA4E2"/>
<rect x="84.60" y="182.00" width="6" height="6" fill="#5CA4E2"/>
<rect x="91.70" y="189.00" width="6" height="6" fill="#5CA4E2"/>
<rect x="108.50" y="202.00" width="6" height="6" fill="#5CA4E2"/>
<rect x="125.30" y="210.40" width="6" height="6" fill="#5CA4E2"/>
<rect x="142.00" y="210.00" width="6" height="6" fill="#5CA4E2"/>
<rect x="158.70" y="228.80" width="6" height="6" fill="#5CA4E2"/>
<rect x="175.30" y="240.00" width="6" height="6" fill="#5CA4E2"/>
<rect x="192.00" y="243.80" width="6" height="6" fill="#5CA4E2"/>
<rect x="208.60" y="230.60" width="6" height="6" fill="#5CA4E2"/>
<rect x="225.40" y="217.60" width="6" height="6" fill="#5CA4E2"/>
<rect x="242.10" y="215.40" width="6" height="6" fill="#5CA4E2"/>
<rect x="258.80" y="206.20" width="6" height="6" fill="#5CA4E2"/>
<rect x="275.50" y="203.20" width="6" height="6" fill="#5CA4E2"/>
<rect x="476.20" y="203.50" width="6" height="6" fill="#5CA4E2"/>
<path d="M61.40 166.60 L77.90 172.30 L80.40 164.80 L82.90 182.80 L87.60 162.50 L94.70 162.20 L111.50 204.30 L128.30 227.50 L145.00 250.30 L161.70 233.50 L178.30 265.00 L195.00 263.50 L211.60 257.20 L228.40 246.40 L245.10 226.40 L261.80 194.90 L278.50 193.40 L479.20 221.80" fill="none" stroke="#1E3776" stroke-width="2.2" stroke-linejoin="round"/>
<path d="M61.40 162.70L65.60 170.40L57.20 170.40Z" fill="none" stroke="#1E3776" stroke-width="1.05"/>
<path d="M77.90 168.40L82.10 176.10L73.70 176.10Z" fill="none" stroke="#1E3776" stroke-width="1.05"/>
<path d="M80.40 160.90L84.60 168.60L76.20 168.60Z" fill="none" stroke="#1E3776" stroke-width="1.05"/>
<path d="M82.90 178.90L87.10 186.60L78.70 186.60Z" fill="none" stroke="#1E3776" stroke-width="1.05"/>
<path d="M87.60 158.60L91.80 166.30L83.40 166.30Z" fill="none" stroke="#1E3776" stroke-width="1.05"/>
<path d="M94.70 158.30L98.90 166.00L90.50 166.00Z" fill="none" stroke="#1E3776" stroke-width="1.05"/>
<path d="M111.50 200.40L115.70 208.10L107.30 208.10Z" fill="none" stroke="#1E3776" stroke-width="1.05"/>
<path d="M128.30 223.60L132.50 231.30L124.10 231.30Z" fill="none" stroke="#1E3776" stroke-width="1.05"/>
<path d="M145.00 246.40L149.20 254.10L140.80 254.10Z" fill="none" stroke="#1E3776" stroke-width="1.05"/>
<path d="M161.70 229.60L165.90 237.30L157.50 237.30Z" fill="none" stroke="#1E3776" stroke-width="1.05"/>
<path d="M178.30 261.10L182.50 268.80L174.10 268.80Z" fill="none" stroke="#1E3776" stroke-width="1.05"/>
<path d="M195.00 259.60L199.20 267.30L190.80 267.30Z" fill="none" stroke="#1E3776" stroke-width="1.05"/>
<path d="M211.60 253.30L215.80 261.00L207.40 261.00Z" fill="none" stroke="#1E3776" stroke-width="1.05"/>
<path d="M228.40 242.50L232.60 250.20L224.20 250.20Z" fill="none" stroke="#1E3776" stroke-width="1.05"/>
<path d="M245.10 222.50L249.30 230.20L240.90 230.20Z" fill="none" stroke="#1E3776" stroke-width="1.05"/>
<path d="M261.80 191.00L266.00 198.70L257.60 198.70Z" fill="none" stroke="#1E3776" stroke-width="1.05"/>
<path d="M278.50 189.50L282.70 197.20L274.30 197.20Z" fill="none" stroke="#1E3776" stroke-width="1.05"/>
<path d="M479.20 217.90L483.40 225.60L475.00 225.60Z" fill="none" stroke="#1E3776" stroke-width="1.05"/>
<path d="M61.40 223.00 L77.90 200.50 L80.40 218.00 L82.90 216.50 L87.60 187.00 L94.70 206.00 L111.50 232.00 L128.30 223.00 L145.00 240.80 L161.70 265.30 L178.30 272.00 L195.00 266.00 L211.60 253.80 L228.40 250.80 L245.10 239.30 L261.80 206.80 L278.50 205.30 L479.20 202.30" fill="none" stroke="#E38B0C" stroke-width="2.2" stroke-linejoin="round"/>
<path d="M61.40 218.40L66.10 227.30L56.70 227.30Z" fill="#E38B0C"/>
<path d="M77.90 195.90L82.60 204.80L73.20 204.80Z" fill="#E38B0C"/>
<path d="M80.40 213.40L85.10 222.30L75.70 222.30Z" fill="#E38B0C"/>
<path d="M82.90 211.90L87.60 220.80L78.20 220.80Z" fill="#E38B0C"/>
<path d="M87.60 182.40L92.30 191.30L82.90 191.30Z" fill="#E38B0C"/>
<path d="M94.70 201.40L99.40 210.30L90.00 210.30Z" fill="#E38B0C"/>
<path d="M111.50 227.40L116.20 236.30L106.80 236.30Z" fill="#E38B0C"/>
<path d="M128.30 218.40L133.00 227.30L123.60 227.30Z" fill="#E38B0C"/>
<path d="M145.00 236.20L149.70 245.10L140.30 245.10Z" fill="#E38B0C"/>
<path d="M161.70 260.70L166.40 269.60L157.00 269.60Z" fill="#E38B0C"/>
<path d="M178.30 267.40L183.00 276.30L173.60 276.30Z" fill="#E38B0C"/>
<path d="M195.00 261.40L199.70 270.30L190.30 270.30Z" fill="#E38B0C"/>
<path d="M211.60 249.20L216.30 258.10L206.90 258.10Z" fill="#E38B0C"/>
<path d="M228.40 246.20L233.10 255.10L223.70 255.10Z" fill="#E38B0C"/>
<path d="M245.10 234.70L249.80 243.60L240.40 243.60Z" fill="#E38B0C"/>
<path d="M261.80 202.20L266.50 211.10L257.10 211.10Z" fill="#E38B0C"/>
<path d="M278.50 200.70L283.20 209.60L273.80 209.60Z" fill="#E38B0C"/>
<path d="M479.20 197.70L483.90 206.60L474.50 206.60Z" fill="#E38B0C"/>
<path d="M61.40 203.40 L77.90 193.00 L80.40 191.50 L82.90 191.00 L87.60 192.00 L94.70 194.60 L111.50 213.60 L128.30 213.70 L145.00 216.60 L161.70 241.10 L178.30 265.30 L195.00 262.80 L211.60 252.90 L228.40 233.00 L245.10 194.40 L261.80 179.00 L278.50 162.00 L479.20 220.50" fill="none" stroke="#A6002C" stroke-width="2.2" stroke-linejoin="round"/>
<circle cx="61.40" cy="203.40" r="3.7" fill="#A6002C" stroke="#96001F" stroke-width="0.8"/>
<circle cx="77.90" cy="193.00" r="3.7" fill="#A6002C" stroke="#96001F" stroke-width="0.8"/>
<circle cx="80.40" cy="191.50" r="3.7" fill="#A6002C" stroke="#96001F" stroke-width="0.8"/>
<circle cx="82.90" cy="191.00" r="3.7" fill="#A6002C" stroke="#96001F" stroke-width="0.8"/>
<circle cx="87.60" cy="192.00" r="3.7" fill="#A6002C" stroke="#96001F" stroke-width="0.8"/>
<circle cx="94.70" cy="194.60" r="3.7" fill="#A6002C" stroke="#96001F" stroke-width="0.8"/>
<circle cx="111.50" cy="213.60" r="3.7" fill="#A6002C" stroke="#96001F" stroke-width="0.8"/>
<circle cx="128.30" cy="213.70" r="3.7" fill="#A6002C" stroke="#96001F" stroke-width="0.8"/>
<circle cx="145.00" cy="216.60" r="3.7" fill="#A6002C" stroke="#96001F" stroke-width="0.8"/>
<circle cx="161.70" cy="241.10" r="3.7" fill="#A6002C" stroke="#96001F" stroke-width="0.8"/>
<circle cx="178.30" cy="265.30" r="3.7" fill="#A6002C" stroke="#96001F" stroke-width="0.8"/>
<circle cx="195.00" cy="262.80" r="3.7" fill="#A6002C" stroke="#96001F" stroke-width="0.8"/>
<circle cx="211.60" cy="252.90" r="3.7" fill="#A6002C" stroke="#96001F" stroke-width="0.8"/>
<circle cx="228.40" cy="233.00" r="3.7" fill="#A6002C" stroke="#96001F" stroke-width="0.8"/>
<circle cx="245.10" cy="194.40" r="3.7" fill="#A6002C" stroke="#96001F" stroke-width="0.8"/>
<circle cx="261.80" cy="179.00" r="3.7" fill="#A6002C" stroke="#96001F" stroke-width="0.8"/>
<circle cx="278.50" cy="162.00" r="3.7" fill="#A6002C" stroke="#96001F" stroke-width="0.8"/>
<circle cx="479.20" cy="220.50" r="3.7" fill="#A6002C" stroke="#96001F" stroke-width="0.8"/>
<path d="M61.40 185.10 L77.90 196.50 L80.40 205.00 L82.90 190.50 L87.60 188.30 L94.70 189.30 L111.50 202.40 L128.30 202.80 L145.00 200.00 L161.70 212.90 L178.30 243.40 L195.00 250.30 L211.60 237.70 L228.40 226.20 L245.10 206.10 L261.80 210.20 L278.50 191.10 L479.20 215.20" fill="none" stroke="#62A83C" stroke-width="2.2" stroke-linejoin="round"/>
<circle cx="61.40" cy="185.10" r="3.7" fill="#62A83C" stroke="#56992F" stroke-width="0.8"/>
<circle cx="77.90" cy="196.50" r="3.7" fill="#62A83C" stroke="#56992F" stroke-width="0.8"/>
<circle cx="80.40" cy="205.00" r="3.7" fill="#62A83C" stroke="#56992F" stroke-width="0.8"/>
<circle cx="82.90" cy="190.50" r="3.7" fill="#62A83C" stroke="#56992F" stroke-width="0.8"/>
<circle cx="87.60" cy="188.30" r="3.7" fill="#62A83C" stroke="#56992F" stroke-width="0.8"/>
<circle cx="94.70" cy="189.30" r="3.7" fill="#62A83C" stroke="#56992F" stroke-width="0.8"/>
<circle cx="111.50" cy="202.40" r="3.7" fill="#62A83C" stroke="#56992F" stroke-width="0.8"/>
<circle cx="128.30" cy="202.80" r="3.7" fill="#62A83C" stroke="#56992F" stroke-width="0.8"/>
<circle cx="145.00" cy="200.00" r="3.7" fill="#62A83C" stroke="#56992F" stroke-width="0.8"/>
<circle cx="161.70" cy="212.90" r="3.7" fill="#62A83C" stroke="#56992F" stroke-width="0.8"/>
<circle cx="178.30" cy="243.40" r="3.7" fill="#62A83C" stroke="#56992F" stroke-width="0.8"/>
<circle cx="195.00" cy="250.30" r="3.7" fill="#62A83C" stroke="#56992F" stroke-width="0.8"/>
<circle cx="211.60" cy="237.70" r="3.7" fill="#62A83C" stroke="#56992F" stroke-width="0.8"/>
<circle cx="228.40" cy="226.20" r="3.7" fill="#62A83C" stroke="#56992F" stroke-width="0.8"/>
<circle cx="245.10" cy="206.10" r="3.7" fill="#62A83C" stroke="#56992F" stroke-width="0.8"/>
<circle cx="261.80" cy="210.20" r="3.7" fill="#62A83C" stroke="#56992F" stroke-width="0.8"/>
<circle cx="278.50" cy="191.10" r="3.7" fill="#62A83C" stroke="#56992F" stroke-width="0.8"/>
<circle cx="479.20" cy="215.20" r="3.7" fill="#62A83C" stroke="#56992F" stroke-width="0.8"/>
<line x1="61.50" y1="466.00" x2="61.50" y2="516.00" stroke="#3D78A8" stroke-width="1.4"/>
<line x1="77.50" y1="461.50" x2="77.50" y2="521.50" stroke="#8CC0EC" stroke-width="1"/>
<rect x="76.70" y="461.00" width="1.6" height="1" fill="#5CA4E2" opacity="0.55"/>
<rect x="76.70" y="521.00" width="1.6" height="1" fill="#5CA4E2" opacity="0.55"/>
<line x1="79.50" y1="443.00" x2="79.50" y2="552.00" stroke="#8CC0EC" stroke-width="1"/>
<rect x="78.70" y="442.50" width="1.6" height="1" fill="#5CA4E2" opacity="0.55"/>
<rect x="78.70" y="551.50" width="1.6" height="1" fill="#5CA4E2" opacity="0.55"/>
<line x1="82.50" y1="457.00" x2="82.50" y2="537.00" stroke="#8CC0EC" stroke-width="1"/>
<rect x="81.70" y="456.50" width="1.6" height="1" fill="#5CA4E2" opacity="0.55"/>
<rect x="81.70" y="536.50" width="1.6" height="1" fill="#5CA4E2" opacity="0.55"/>
<line x1="86.50" y1="472.00" x2="86.50" y2="532.00" stroke="#8CC0EC" stroke-width="1"/>
<rect x="85.70" y="471.50" width="1.6" height="1" fill="#5CA4E2" opacity="0.55"/>
<rect x="85.70" y="531.50" width="1.6" height="1" fill="#5CA4E2" opacity="0.55"/>
<line x1="93.50" y1="476.00" x2="93.50" y2="536.00" stroke="#8CC0EC" stroke-width="1"/>
<rect x="92.70" y="475.50" width="1.6" height="1" fill="#5CA4E2" opacity="0.55"/>
<rect x="92.70" y="535.50" width="1.6" height="1" fill="#5CA4E2" opacity="0.55"/>
<line x1="110.50" y1="494.50" x2="110.50" y2="554.50" stroke="#8CC0EC" stroke-width="1"/>
<rect x="109.70" y="494.00" width="1.6" height="1" fill="#5CA4E2" opacity="0.55"/>
<rect x="109.70" y="554.00" width="1.6" height="1" fill="#5CA4E2" opacity="0.55"/>
<line x1="126.50" y1="516.20" x2="126.50" y2="548.60" stroke="#8CC0EC" stroke-width="1"/>
<rect x="125.70" y="515.70" width="1.6" height="1" fill="#5CA4E2" opacity="0.55"/>
<rect x="125.70" y="548.10" width="1.6" height="1" fill="#5CA4E2" opacity="0.55"/>
<line x1="142.50" y1="553.00" x2="142.50" y2="593.00" stroke="#8CC0EC" stroke-width="1"/>
<rect x="141.70" y="552.50" width="1.6" height="1" fill="#5CA4E2" opacity="0.55"/>
<rect x="141.70" y="592.50" width="1.6" height="1" fill="#5CA4E2" opacity="0.55"/>
<line x1="159.50" y1="561.90" x2="159.50" y2="601.90" stroke="#8CC0EC" stroke-width="1"/>
<rect x="158.70" y="561.40" width="1.6" height="1" fill="#5CA4E2" opacity="0.55"/>
<rect x="158.70" y="601.40" width="1.6" height="1" fill="#5CA4E2" opacity="0.55"/>
<line x1="175.50" y1="550.40" x2="175.50" y2="602.60" stroke="#8CC0EC" stroke-width="1"/>
<rect x="174.70" y="549.90" width="1.6" height="1" fill="#5CA4E2" opacity="0.55"/>
<rect x="174.70" y="602.10" width="1.6" height="1" fill="#5CA4E2" opacity="0.55"/>
<line x1="191.50" y1="533.00" x2="191.50" y2="585.00" stroke="#8CC0EC" stroke-width="1"/>
<rect x="190.70" y="532.50" width="1.6" height="1" fill="#5CA4E2" opacity="0.55"/>
<rect x="190.70" y="584.50" width="1.6" height="1" fill="#5CA4E2" opacity="0.55"/>
<line x1="207.50" y1="518.50" x2="207.50" y2="558.50" stroke="#8CC0EC" stroke-width="1"/>
<rect x="206.70" y="518.00" width="1.6" height="1" fill="#5CA4E2" opacity="0.55"/>
<rect x="206.70" y="558.00" width="1.6" height="1" fill="#5CA4E2" opacity="0.55"/>
<line x1="223.50" y1="501.50" x2="223.50" y2="541.50" stroke="#8CC0EC" stroke-width="1"/>
<rect x="222.70" y="501.00" width="1.6" height="1" fill="#5CA4E2" opacity="0.55"/>
<rect x="222.70" y="541.00" width="1.6" height="1" fill="#5CA4E2" opacity="0.55"/>
<line x1="240.50" y1="496.50" x2="240.50" y2="536.50" stroke="#8CC0EC" stroke-width="1"/>
<rect x="239.70" y="496.00" width="1.6" height="1" fill="#5CA4E2" opacity="0.55"/>
<rect x="239.70" y="536.00" width="1.6" height="1" fill="#5CA4E2" opacity="0.55"/>
<line x1="256.50" y1="503.30" x2="256.50" y2="543.30" stroke="#8CC0EC" stroke-width="1"/>
<rect x="255.70" y="502.80" width="1.6" height="1" fill="#5CA4E2" opacity="0.55"/>
<rect x="255.70" y="542.80" width="1.6" height="1" fill="#5CA4E2" opacity="0.55"/>
<line x1="272.50" y1="504.00" x2="272.50" y2="544.00" stroke="#8CC0EC" stroke-width="1"/>
<rect x="271.70" y="503.50" width="1.6" height="1" fill="#5CA4E2" opacity="0.55"/>
<rect x="271.70" y="543.50" width="1.6" height="1" fill="#5CA4E2" opacity="0.55"/>
<line x1="467.50" y1="506.00" x2="467.50" y2="536.00" stroke="#8CC0EC" stroke-width="1"/>
<rect x="466.70" y="505.50" width="1.6" height="1" fill="#5CA4E2" opacity="0.55"/>
<rect x="466.70" y="535.50" width="1.6" height="1" fill="#5CA4E2" opacity="0.55"/>
<line x1="61.50" y1="482.50" x2="61.50" y2="527.50" stroke="#1A2C62" stroke-width="1.4"/>
<line x1="77.50" y1="483.00" x2="77.50" y2="533.00" stroke="#5D74A8" stroke-width="1"/>
<rect x="76.70" y="482.50" width="1.6" height="1" fill="#1E3776" opacity="0.55"/>
<rect x="76.70" y="532.50" width="1.6" height="1" fill="#1E3776" opacity="0.55"/>
<line x1="79.50" y1="487.00" x2="79.50" y2="537.00" stroke="#5D74A8" stroke-width="1"/>
<rect x="78.70" y="486.50" width="1.6" height="1" fill="#1E3776" opacity="0.55"/>
<rect x="78.70" y="536.50" width="1.6" height="1" fill="#1E3776" opacity="0.55"/>
<line x1="82.50" y1="485.00" x2="82.50" y2="535.00" stroke="#5D74A8" stroke-width="1"/>
<rect x="81.70" y="484.50" width="1.6" height="1" fill="#1E3776" opacity="0.55"/>
<rect x="81.70" y="534.50" width="1.6" height="1" fill="#1E3776" opacity="0.55"/>
<line x1="86.50" y1="483.00" x2="86.50" y2="533.00" stroke="#5D74A8" stroke-width="1"/>
<rect x="85.70" y="482.50" width="1.6" height="1" fill="#1E3776" opacity="0.55"/>
<rect x="85.70" y="532.50" width="1.6" height="1" fill="#1E3776" opacity="0.55"/>
<line x1="93.50" y1="479.20" x2="93.50" y2="529.20" stroke="#5D74A8" stroke-width="1"/>
<rect x="92.70" y="478.70" width="1.6" height="1" fill="#1E3776" opacity="0.55"/>
<rect x="92.70" y="528.70" width="1.6" height="1" fill="#1E3776" opacity="0.55"/>
<line x1="110.50" y1="503.50" x2="110.50" y2="553.50" stroke="#5D74A8" stroke-width="1"/>
<rect x="109.70" y="503.00" width="1.6" height="1" fill="#1E3776" opacity="0.55"/>
<rect x="109.70" y="553.00" width="1.6" height="1" fill="#1E3776" opacity="0.55"/>
<line x1="126.50" y1="548.40" x2="126.50" y2="588.40" stroke="#5D74A8" stroke-width="1"/>
<rect x="125.70" y="547.90" width="1.6" height="1" fill="#1E3776" opacity="0.55"/>
<rect x="125.70" y="587.90" width="1.6" height="1" fill="#1E3776" opacity="0.55"/>
<line x1="142.50" y1="568.20" x2="142.50" y2="608.20" stroke="#5D74A8" stroke-width="1"/>
<rect x="141.70" y="567.70" width="1.6" height="1" fill="#1E3776" opacity="0.55"/>
<rect x="141.70" y="607.70" width="1.6" height="1" fill="#1E3776" opacity="0.55"/>
<line x1="159.50" y1="552.20" x2="159.50" y2="617.00" stroke="#5D74A8" stroke-width="1"/>
<rect x="158.70" y="551.70" width="1.6" height="1" fill="#1E3776" opacity="0.55"/>
<rect x="158.70" y="616.50" width="1.6" height="1" fill="#1E3776" opacity="0.55"/>
<line x1="175.50" y1="586.70" x2="175.50" y2="616.70" stroke="#5D74A8" stroke-width="1"/>
<rect x="174.70" y="586.20" width="1.6" height="1" fill="#1E3776" opacity="0.55"/>
<rect x="174.70" y="616.20" width="1.6" height="1" fill="#1E3776" opacity="0.55"/>
<line x1="191.50" y1="564.70" x2="191.50" y2="604.70" stroke="#5D74A8" stroke-width="1"/>
<rect x="190.70" y="564.20" width="1.6" height="1" fill="#1E3776" opacity="0.55"/>
<rect x="190.70" y="604.20" width="1.6" height="1" fill="#1E3776" opacity="0.55"/>
<line x1="207.50" y1="534.20" x2="207.50" y2="574.20" stroke="#5D74A8" stroke-width="1"/>
<rect x="206.70" y="533.70" width="1.6" height="1" fill="#1E3776" opacity="0.55"/>
<rect x="206.70" y="573.70" width="1.6" height="1" fill="#1E3776" opacity="0.55"/>
<line x1="223.50" y1="506.60" x2="223.50" y2="546.60" stroke="#5D74A8" stroke-width="1"/>
<rect x="222.70" y="506.10" width="1.6" height="1" fill="#1E3776" opacity="0.55"/>
<rect x="222.70" y="546.10" width="1.6" height="1" fill="#1E3776" opacity="0.55"/>
<line x1="240.50" y1="498.30" x2="240.50" y2="538.30" stroke="#5D74A8" stroke-width="1"/>
<rect x="239.70" y="497.80" width="1.6" height="1" fill="#1E3776" opacity="0.55"/>
<rect x="239.70" y="537.80" width="1.6" height="1" fill="#1E3776" opacity="0.55"/>
<line x1="256.50" y1="502.50" x2="256.50" y2="542.50" stroke="#5D74A8" stroke-width="1"/>
<rect x="255.70" y="502.00" width="1.6" height="1" fill="#1E3776" opacity="0.55"/>
<rect x="255.70" y="542.00" width="1.6" height="1" fill="#1E3776" opacity="0.55"/>
<line x1="272.50" y1="505.50" x2="272.50" y2="541.50" stroke="#5D74A8" stroke-width="1"/>
<rect x="271.70" y="505.00" width="1.6" height="1" fill="#1E3776" opacity="0.55"/>
<rect x="271.70" y="541.00" width="1.6" height="1" fill="#1E3776" opacity="0.55"/>
<line x1="467.50" y1="521.50" x2="467.50" y2="551.50" stroke="#5D74A8" stroke-width="1"/>
<rect x="466.70" y="521.00" width="1.6" height="1" fill="#1E3776" opacity="0.55"/>
<rect x="466.70" y="551.00" width="1.6" height="1" fill="#1E3776" opacity="0.55"/>
<line x1="61.50" y1="486.20" x2="61.50" y2="520.20" stroke="#A86608" stroke-width="1.4"/>
<line x1="77.50" y1="486.00" x2="77.50" y2="526.00" stroke="#EDA94A" stroke-width="1"/>
<rect x="76.70" y="485.50" width="1.6" height="1" fill="#E38B0C" opacity="0.55"/>
<rect x="76.70" y="525.50" width="1.6" height="1" fill="#E38B0C" opacity="0.55"/>
<line x1="79.50" y1="500.50" x2="79.50" y2="540.50" stroke="#EDA94A" stroke-width="1"/>
<rect x="78.70" y="500.00" width="1.6" height="1" fill="#E38B0C" opacity="0.55"/>
<rect x="78.70" y="540.00" width="1.6" height="1" fill="#E38B0C" opacity="0.55"/>
<line x1="82.50" y1="500.50" x2="82.50" y2="540.50" stroke="#EDA94A" stroke-width="1"/>
<rect x="81.70" y="500.00" width="1.6" height="1" fill="#E38B0C" opacity="0.55"/>
<rect x="81.70" y="540.00" width="1.6" height="1" fill="#E38B0C" opacity="0.55"/>
<line x1="86.50" y1="496.00" x2="86.50" y2="536.00" stroke="#EDA94A" stroke-width="1"/>
<rect x="85.70" y="495.50" width="1.6" height="1" fill="#E38B0C" opacity="0.55"/>
<rect x="85.70" y="535.50" width="1.6" height="1" fill="#E38B0C" opacity="0.55"/>
<line x1="93.50" y1="493.00" x2="93.50" y2="533.00" stroke="#EDA94A" stroke-width="1"/>
<rect x="92.70" y="492.50" width="1.6" height="1" fill="#E38B0C" opacity="0.55"/>
<rect x="92.70" y="532.50" width="1.6" height="1" fill="#E38B0C" opacity="0.55"/>
<line x1="110.50" y1="492.80" x2="110.50" y2="570.20" stroke="#EDA94A" stroke-width="1"/>
<rect x="109.70" y="492.30" width="1.6" height="1" fill="#E38B0C" opacity="0.55"/>
<rect x="109.70" y="569.70" width="1.6" height="1" fill="#E38B0C" opacity="0.55"/>
<line x1="126.50" y1="541.20" x2="126.50" y2="599.20" stroke="#EDA94A" stroke-width="1"/>
<rect x="125.70" y="540.70" width="1.6" height="1" fill="#E38B0C" opacity="0.55"/>
<rect x="125.70" y="598.70" width="1.6" height="1" fill="#E38B0C" opacity="0.55"/>
<line x1="142.50" y1="587.30" x2="142.50" y2="614.30" stroke="#EDA94A" stroke-width="1"/>
<rect x="141.70" y="586.80" width="1.6" height="1" fill="#E38B0C" opacity="0.55"/>
<rect x="141.70" y="613.80" width="1.6" height="1" fill="#E38B0C" opacity="0.55"/>
<line x1="159.50" y1="598.90" x2="159.50" y2="618.90" stroke="#EDA94A" stroke-width="1"/>
<rect x="158.70" y="598.40" width="1.6" height="1" fill="#E38B0C" opacity="0.55"/>
<rect x="158.70" y="618.40" width="1.6" height="1" fill="#E38B0C" opacity="0.55"/>
<line x1="175.50" y1="594.40" x2="175.50" y2="614.40" stroke="#EDA94A" stroke-width="1"/>
<rect x="174.70" y="593.90" width="1.6" height="1" fill="#E38B0C" opacity="0.55"/>
<rect x="174.70" y="613.90" width="1.6" height="1" fill="#E38B0C" opacity="0.55"/>
<line x1="191.50" y1="592.90" x2="191.50" y2="612.90" stroke="#EDA94A" stroke-width="1"/>
<rect x="190.70" y="592.40" width="1.6" height="1" fill="#E38B0C" opacity="0.55"/>
<rect x="190.70" y="612.40" width="1.6" height="1" fill="#E38B0C" opacity="0.55"/>
<line x1="207.50" y1="548.80" x2="207.50" y2="596.80" stroke="#EDA94A" stroke-width="1"/>
<rect x="206.70" y="548.30" width="1.6" height="1" fill="#E38B0C" opacity="0.55"/>
<rect x="206.70" y="596.30" width="1.6" height="1" fill="#E38B0C" opacity="0.55"/>
<line x1="223.50" y1="508.70" x2="223.50" y2="585.30" stroke="#EDA94A" stroke-width="1"/>
<rect x="222.70" y="508.20" width="1.6" height="1" fill="#E38B0C" opacity="0.55"/>
<rect x="222.70" y="584.80" width="1.6" height="1" fill="#E38B0C" opacity="0.55"/>
<line x1="240.50" y1="519.30" x2="240.50" y2="559.30" stroke="#EDA94A" stroke-width="1"/>
<rect x="239.70" y="518.80" width="1.6" height="1" fill="#E38B0C" opacity="0.55"/>
<rect x="239.70" y="558.80" width="1.6" height="1" fill="#E38B0C" opacity="0.55"/>
<line x1="256.50" y1="515.20" x2="256.50" y2="545.20" stroke="#EDA94A" stroke-width="1"/>
<rect x="255.70" y="514.70" width="1.6" height="1" fill="#E38B0C" opacity="0.55"/>
<rect x="255.70" y="544.70" width="1.6" height="1" fill="#E38B0C" opacity="0.55"/>
<line x1="272.50" y1="516.00" x2="272.50" y2="536.00" stroke="#EDA94A" stroke-width="1"/>
<rect x="271.70" y="515.50" width="1.6" height="1" fill="#E38B0C" opacity="0.55"/>
<rect x="271.70" y="535.50" width="1.6" height="1" fill="#E38B0C" opacity="0.55"/>
<line x1="467.50" y1="526.00" x2="467.50" y2="556.40" stroke="#EDA94A" stroke-width="1"/>
<rect x="466.70" y="525.50" width="1.6" height="1" fill="#E38B0C" opacity="0.55"/>
<rect x="466.70" y="555.90" width="1.6" height="1" fill="#E38B0C" opacity="0.55"/>
<line x1="61.50" y1="438.70" x2="61.50" y2="508.70" stroke="#7A0020" stroke-width="1.4"/>
<line x1="77.50" y1="432.90" x2="77.50" y2="507.30" stroke="#C4506C" stroke-width="1"/>
<rect x="76.70" y="432.40" width="1.6" height="1" fill="#A6002C" opacity="0.55"/>
<rect x="76.70" y="506.80" width="1.6" height="1" fill="#A6002C" opacity="0.55"/>
<line x1="79.50" y1="439.20" x2="79.50" y2="520.80" stroke="#C4506C" stroke-width="1"/>
<rect x="78.70" y="438.70" width="1.6" height="1" fill="#A6002C" opacity="0.55"/>
<rect x="78.70" y="520.30" width="1.6" height="1" fill="#A6002C" opacity="0.55"/>
<line x1="82.50" y1="409.90" x2="82.50" y2="497.90" stroke="#C4506C" stroke-width="1"/>
<rect x="81.70" y="409.40" width="1.6" height="1" fill="#A6002C" opacity="0.55"/>
<rect x="81.70" y="497.40" width="1.6" height="1" fill="#A6002C" opacity="0.55"/>
<line x1="86.50" y1="425.70" x2="86.50" y2="521.70" stroke="#C4506C" stroke-width="1"/>
<rect x="85.70" y="425.20" width="1.6" height="1" fill="#A6002C" opacity="0.55"/>
<rect x="85.70" y="521.20" width="1.6" height="1" fill="#A6002C" opacity="0.55"/>
<line x1="93.50" y1="447.10" x2="93.50" y2="514.70" stroke="#C4506C" stroke-width="1"/>
<rect x="92.70" y="446.60" width="1.6" height="1" fill="#A6002C" opacity="0.55"/>
<rect x="92.70" y="514.20" width="1.6" height="1" fill="#A6002C" opacity="0.55"/>
<line x1="110.50" y1="491.30" x2="110.50" y2="507.30" stroke="#C4506C" stroke-width="1"/>
<rect x="109.70" y="490.80" width="1.6" height="1" fill="#A6002C" opacity="0.55"/>
<rect x="109.70" y="506.80" width="1.6" height="1" fill="#A6002C" opacity="0.55"/>
<line x1="126.50" y1="534.20" x2="126.50" y2="584.20" stroke="#C4506C" stroke-width="1"/>
<rect x="125.70" y="533.70" width="1.6" height="1" fill="#A6002C" opacity="0.55"/>
<rect x="125.70" y="583.70" width="1.6" height="1" fill="#A6002C" opacity="0.55"/>
<line x1="142.50" y1="578.60" x2="142.50" y2="608.60" stroke="#C4506C" stroke-width="1"/>
<rect x="141.70" y="578.10" width="1.6" height="1" fill="#A6002C" opacity="0.55"/>
<rect x="141.70" y="608.10" width="1.6" height="1" fill="#A6002C" opacity="0.55"/>
<line x1="159.50" y1="595.30" x2="159.50" y2="615.30" stroke="#C4506C" stroke-width="1"/>
<rect x="158.70" y="594.80" width="1.6" height="1" fill="#A6002C" opacity="0.55"/>
<rect x="158.70" y="614.80" width="1.6" height="1" fill="#A6002C" opacity="0.55"/>
<line x1="175.50" y1="579.60" x2="175.50" y2="609.20" stroke="#C4506C" stroke-width="1"/>
<rect x="174.70" y="579.10" width="1.6" height="1" fill="#A6002C" opacity="0.55"/>
<rect x="174.70" y="608.70" width="1.6" height="1" fill="#A6002C" opacity="0.55"/>
<line x1="191.50" y1="553.00" x2="191.50" y2="603.00" stroke="#C4506C" stroke-width="1"/>
<rect x="190.70" y="552.50" width="1.6" height="1" fill="#A6002C" opacity="0.55"/>
<rect x="190.70" y="602.50" width="1.6" height="1" fill="#A6002C" opacity="0.55"/>
<line x1="207.50" y1="484.00" x2="207.50" y2="592.00" stroke="#C4506C" stroke-width="1"/>
<rect x="206.70" y="483.50" width="1.6" height="1" fill="#A6002C" opacity="0.55"/>
<rect x="206.70" y="591.50" width="1.6" height="1" fill="#A6002C" opacity="0.55"/>
<line x1="223.50" y1="429.00" x2="223.50" y2="568.60" stroke="#C4506C" stroke-width="1"/>
<rect x="222.70" y="428.50" width="1.6" height="1" fill="#A6002C" opacity="0.55"/>
<rect x="222.70" y="568.10" width="1.6" height="1" fill="#A6002C" opacity="0.55"/>
<line x1="240.50" y1="414.00" x2="240.50" y2="542.80" stroke="#C4506C" stroke-width="1"/>
<rect x="239.70" y="413.50" width="1.6" height="1" fill="#A6002C" opacity="0.55"/>
<rect x="239.70" y="542.30" width="1.6" height="1" fill="#A6002C" opacity="0.55"/>
<line x1="256.50" y1="366.00" x2="256.50" y2="546.40" stroke="#C4506C" stroke-width="1"/>
<rect x="255.70" y="365.50" width="1.6" height="1" fill="#A6002C" opacity="0.55"/>
<rect x="255.70" y="545.90" width="1.6" height="1" fill="#A6002C" opacity="0.55"/>
<line x1="272.50" y1="408.90" x2="272.50" y2="530.50" stroke="#C4506C" stroke-width="1"/>
<rect x="271.70" y="408.40" width="1.6" height="1" fill="#A6002C" opacity="0.55"/>
<rect x="271.70" y="530.00" width="1.6" height="1" fill="#A6002C" opacity="0.55"/>
<line x1="467.50" y1="498.30" x2="467.50" y2="518.30" stroke="#C4506C" stroke-width="1"/>
<rect x="466.70" y="497.80" width="1.6" height="1" fill="#A6002C" opacity="0.55"/>
<rect x="466.70" y="517.80" width="1.6" height="1" fill="#A6002C" opacity="0.55"/>
<line x1="61.50" y1="469.30" x2="61.50" y2="517.30" stroke="#3E7424" stroke-width="1.4"/>
<line x1="77.50" y1="475.70" x2="77.50" y2="525.70" stroke="#7DBB5E" stroke-width="1"/>
<rect x="76.70" y="475.20" width="1.6" height="1" fill="#62A83C" opacity="0.55"/>
<rect x="76.70" y="525.20" width="1.6" height="1" fill="#62A83C" opacity="0.55"/>
<line x1="79.50" y1="478.50" x2="79.50" y2="528.50" stroke="#7DBB5E" stroke-width="1"/>
<rect x="78.70" y="478.00" width="1.6" height="1" fill="#62A83C" opacity="0.55"/>
<rect x="78.70" y="528.00" width="1.6" height="1" fill="#62A83C" opacity="0.55"/>
<line x1="82.50" y1="481.00" x2="82.50" y2="531.00" stroke="#7DBB5E" stroke-width="1"/>
<rect x="81.70" y="480.50" width="1.6" height="1" fill="#62A83C" opacity="0.55"/>
<rect x="81.70" y="530.50" width="1.6" height="1" fill="#62A83C" opacity="0.55"/>
<line x1="86.50" y1="486.30" x2="86.50" y2="536.30" stroke="#7DBB5E" stroke-width="1"/>
<rect x="85.70" y="485.80" width="1.6" height="1" fill="#62A83C" opacity="0.55"/>
<rect x="85.70" y="535.80" width="1.6" height="1" fill="#62A83C" opacity="0.55"/>
<line x1="110.50" y1="508.50" x2="110.50" y2="518.50" stroke="#7DBB5E" stroke-width="1"/>
<rect x="109.70" y="508.00" width="1.6" height="1" fill="#62A83C" opacity="0.55"/>
<rect x="109.70" y="518.00" width="1.6" height="1" fill="#62A83C" opacity="0.55"/>
<line x1="126.50" y1="529.60" x2="126.50" y2="549.60" stroke="#7DBB5E" stroke-width="1"/>
<rect x="125.70" y="529.10" width="1.6" height="1" fill="#62A83C" opacity="0.55"/>
<rect x="125.70" y="549.10" width="1.6" height="1" fill="#62A83C" opacity="0.55"/>
<line x1="142.50" y1="555.80" x2="142.50" y2="586.40" stroke="#7DBB5E" stroke-width="1"/>
<rect x="141.70" y="555.30" width="1.6" height="1" fill="#62A83C" opacity="0.55"/>
<rect x="141.70" y="585.90" width="1.6" height="1" fill="#62A83C" opacity="0.55"/>
<line x1="159.50" y1="573.30" x2="159.50" y2="601.30" stroke="#7DBB5E" stroke-width="1"/>
<rect x="158.70" y="572.80" width="1.6" height="1" fill="#62A83C" opacity="0.55"/>
<rect x="158.70" y="600.80" width="1.6" height="1" fill="#62A83C" opacity="0.55"/>
<line x1="175.50" y1="566.90" x2="175.50" y2="606.90" stroke="#7DBB5E" stroke-width="1"/>
<rect x="174.70" y="566.40" width="1.6" height="1" fill="#62A83C" opacity="0.55"/>
<rect x="174.70" y="606.40" width="1.6" height="1" fill="#62A83C" opacity="0.55"/>
<line x1="191.50" y1="554.40" x2="191.50" y2="595.40" stroke="#7DBB5E" stroke-width="1"/>
<rect x="190.70" y="553.90" width="1.6" height="1" fill="#62A83C" opacity="0.55"/>
<rect x="190.70" y="594.90" width="1.6" height="1" fill="#62A83C" opacity="0.55"/>
<line x1="207.50" y1="517.10" x2="207.50" y2="557.10" stroke="#7DBB5E" stroke-width="1"/>
<rect x="206.70" y="516.60" width="1.6" height="1" fill="#62A83C" opacity="0.55"/>
<rect x="206.70" y="556.60" width="1.6" height="1" fill="#62A83C" opacity="0.55"/>
<line x1="223.50" y1="478.20" x2="223.50" y2="551.80" stroke="#7DBB5E" stroke-width="1"/>
<rect x="222.70" y="477.70" width="1.6" height="1" fill="#62A83C" opacity="0.55"/>
<rect x="222.70" y="551.30" width="1.6" height="1" fill="#62A83C" opacity="0.55"/>
<line x1="240.50" y1="490.50" x2="240.50" y2="524.50" stroke="#7DBB5E" stroke-width="1"/>
<rect x="239.70" y="490.00" width="1.6" height="1" fill="#62A83C" opacity="0.55"/>
<rect x="239.70" y="524.00" width="1.6" height="1" fill="#62A83C" opacity="0.55"/>
<line x1="256.50" y1="490.30" x2="256.50" y2="538.30" stroke="#7DBB5E" stroke-width="1"/>
<rect x="255.70" y="489.80" width="1.6" height="1" fill="#62A83C" opacity="0.55"/>
<rect x="255.70" y="537.80" width="1.6" height="1" fill="#62A83C" opacity="0.55"/>
<line x1="272.50" y1="478.40" x2="272.50" y2="536.00" stroke="#7DBB5E" stroke-width="1"/>
<rect x="271.70" y="477.90" width="1.6" height="1" fill="#62A83C" opacity="0.55"/>
<rect x="271.70" y="535.50" width="1.6" height="1" fill="#62A83C" opacity="0.55"/>
<line x1="467.50" y1="494.00" x2="467.50" y2="543.00" stroke="#7DBB5E" stroke-width="1"/>
<rect x="466.70" y="493.50" width="1.6" height="1" fill="#62A83C" opacity="0.55"/>
<rect x="466.70" y="542.50" width="1.6" height="1" fill="#62A83C" opacity="0.55"/>
<path d="M61.50 491.00 L77.60 491.50 L79.90 497.50 L82.10 497.00 L86.90 502.00 L93.80 506.00 L110.20 524.50 L126.50 532.40 L142.70 573.00 L159.00 581.90 L175.25 576.50 L191.40 559.00 L207.60 538.50 L223.90 521.50 L240.20 516.50 L256.30 523.30 L272.60 524.00 L467.70 521.00" fill="none" stroke="#5CA4E2" stroke-width="2.2" stroke-linejoin="round"/>
<rect x="58.50" y="488.00" width="6" height="6" fill="#5CA4E2"/>
<rect x="74.60" y="488.50" width="6" height="6" fill="#5CA4E2"/>
<rect x="76.90" y="494.50" width="6" height="6" fill="#5CA4E2"/>
<rect x="79.10" y="494.00" width="6" height="6" fill="#5CA4E2"/>
<rect x="83.90" y="499.00" width="6" height="6" fill="#5CA4E2"/>
<rect x="90.80" y="503.00" width="6" height="6" fill="#5CA4E2"/>
<rect x="107.20" y="521.50" width="6" height="6" fill="#5CA4E2"/>
<rect x="123.50" y="529.40" width="6" height="6" fill="#5CA4E2"/>
<rect x="139.70" y="570.00" width="6" height="6" fill="#5CA4E2"/>
<rect x="156.00" y="578.90" width="6" height="6" fill="#5CA4E2"/>
<rect x="172.25" y="573.50" width="6" height="6" fill="#5CA4E2"/>
<rect x="188.40" y="556.00" width="6" height="6" fill="#5CA4E2"/>
<rect x="204.60" y="535.50" width="6" height="6" fill="#5CA4E2"/>
<rect x="220.90" y="518.50" width="6" height="6" fill="#5CA4E2"/>
<rect x="237.20" y="513.50" width="6" height="6" fill="#5CA4E2"/>
<rect x="253.30" y="520.30" width="6" height="6" fill="#5CA4E2"/>
<rect x="269.60" y="521.00" width="6" height="6" fill="#5CA4E2"/>
<rect x="464.70" y="518.00" width="6" height="6" fill="#5CA4E2"/>
<path d="M61.50 505.00 L77.60 508.00 L79.90 512.00 L82.10 510.00 L86.90 508.00 L93.80 504.20 L110.20 528.50 L126.50 568.40 L142.70 588.20 L159.00 584.60 L175.25 601.70 L191.40 584.70 L207.60 554.20 L223.90 526.60 L240.20 518.30 L256.30 522.50 L272.60 523.50 L467.70 536.50" fill="none" stroke="#1E3776" stroke-width="2.2" stroke-linejoin="round"/>
<path d="M61.50 501.10L65.70 508.80L57.30 508.80Z" fill="none" stroke="#1E3776" stroke-width="1.05"/>
<path d="M77.60 504.10L81.80 511.80L73.40 511.80Z" fill="none" stroke="#1E3776" stroke-width="1.05"/>
<path d="M79.90 508.10L84.10 515.80L75.70 515.80Z" fill="none" stroke="#1E3776" stroke-width="1.05"/>
<path d="M82.10 506.10L86.30 513.80L77.90 513.80Z" fill="none" stroke="#1E3776" stroke-width="1.05"/>
<path d="M86.90 504.10L91.10 511.80L82.70 511.80Z" fill="none" stroke="#1E3776" stroke-width="1.05"/>
<path d="M93.80 500.30L98.00 508.00L89.60 508.00Z" fill="none" stroke="#1E3776" stroke-width="1.05"/>
<path d="M110.20 524.60L114.40 532.30L106.00 532.30Z" fill="none" stroke="#1E3776" stroke-width="1.05"/>
<path d="M126.50 564.50L130.70 572.20L122.30 572.20Z" fill="none" stroke="#1E3776" stroke-width="1.05"/>
<path d="M142.70 584.30L146.90 592.00L138.50 592.00Z" fill="none" stroke="#1E3776" stroke-width="1.05"/>
<path d="M159.00 580.70L163.20 588.40L154.80 588.40Z" fill="none" stroke="#1E3776" stroke-width="1.05"/>
<path d="M175.25 597.80L179.45 605.50L171.05 605.50Z" fill="none" stroke="#1E3776" stroke-width="1.05"/>
<path d="M191.40 580.80L195.60 588.50L187.20 588.50Z" fill="none" stroke="#1E3776" stroke-width="1.05"/>
<path d="M207.60 550.30L211.80 558.00L203.40 558.00Z" fill="none" stroke="#1E3776" stroke-width="1.05"/>
<path d="M223.90 522.70L228.10 530.40L219.70 530.40Z" fill="none" stroke="#1E3776" stroke-width="1.05"/>
<path d="M240.20 514.40L244.40 522.10L236.00 522.10Z" fill="none" stroke="#1E3776" stroke-width="1.05"/>
<path d="M256.30 518.60L260.50 526.30L252.10 526.30Z" fill="none" stroke="#1E3776" stroke-width="1.05"/>
<path d="M272.60 519.60L276.80 527.30L268.40 527.30Z" fill="none" stroke="#1E3776" stroke-width="1.05"/>
<path d="M467.70 532.60L471.90 540.30L463.50 540.30Z" fill="none" stroke="#1E3776" stroke-width="1.05"/>
<path d="M61.50 503.20 L77.60 506.00 L79.90 520.50 L82.10 520.50 L86.90 516.00 L93.80 513.00 L110.20 531.50 L126.50 570.20 L142.70 600.80 L159.00 608.90 L175.25 604.40 L191.40 602.90 L207.60 572.80 L223.90 547.00 L240.20 539.30 L256.30 530.20 L272.60 526.00 L467.70 541.20" fill="none" stroke="#E38B0C" stroke-width="2.2" stroke-linejoin="round"/>
<path d="M61.50 498.60L66.20 507.50L56.80 507.50Z" fill="#E38B0C"/>
<path d="M77.60 501.40L82.30 510.30L72.90 510.30Z" fill="#E38B0C"/>
<path d="M79.90 515.90L84.60 524.80L75.20 524.80Z" fill="#E38B0C"/>
<path d="M82.10 515.90L86.80 524.80L77.40 524.80Z" fill="#E38B0C"/>
<path d="M86.90 511.40L91.60 520.30L82.20 520.30Z" fill="#E38B0C"/>
<path d="M93.80 508.40L98.50 517.30L89.10 517.30Z" fill="#E38B0C"/>
<path d="M110.20 526.90L114.90 535.80L105.50 535.80Z" fill="#E38B0C"/>
<path d="M126.50 565.60L131.20 574.50L121.80 574.50Z" fill="#E38B0C"/>
<path d="M142.70 596.20L147.40 605.10L138.00 605.10Z" fill="#E38B0C"/>
<path d="M159.00 604.30L163.70 613.20L154.30 613.20Z" fill="#E38B0C"/>
<path d="M175.25 599.80L179.95 608.70L170.55 608.70Z" fill="#E38B0C"/>
<path d="M191.40 598.30L196.10 607.20L186.70 607.20Z" fill="#E38B0C"/>
<path d="M207.60 568.20L212.30 577.10L202.90 577.10Z" fill="#E38B0C"/>
<path d="M223.90 542.40L228.60 551.30L219.20 551.30Z" fill="#E38B0C"/>
<path d="M240.20 534.70L244.90 543.60L235.50 543.60Z" fill="#E38B0C"/>
<path d="M256.30 525.60L261.00 534.50L251.60 534.50Z" fill="#E38B0C"/>
<path d="M272.60 521.40L277.30 530.30L267.90 530.30Z" fill="#E38B0C"/>
<path d="M467.70 536.60L472.40 545.50L463.00 545.50Z" fill="#E38B0C"/>
<path d="M61.50 473.70 L77.60 470.10 L79.90 480.00 L82.10 453.90 L86.90 473.70 L93.80 480.90 L110.20 499.30 L126.50 559.20 L142.70 593.60 L159.00 605.30 L175.25 594.40 L191.40 578.00 L207.60 538.00 L223.90 498.80 L240.20 478.40 L256.30 456.20 L272.60 469.70 L467.70 508.30" fill="none" stroke="#A6002C" stroke-width="2.2" stroke-linejoin="round"/>
<circle cx="61.50" cy="473.70" r="3.7" fill="#A6002C" stroke="#96001F" stroke-width="0.8"/>
<circle cx="77.60" cy="470.10" r="3.7" fill="#A6002C" stroke="#96001F" stroke-width="0.8"/>
<circle cx="79.90" cy="480.00" r="3.7" fill="#A6002C" stroke="#96001F" stroke-width="0.8"/>
<circle cx="82.10" cy="453.90" r="3.7" fill="#A6002C" stroke="#96001F" stroke-width="0.8"/>
<circle cx="86.90" cy="473.70" r="3.7" fill="#A6002C" stroke="#96001F" stroke-width="0.8"/>
<circle cx="93.80" cy="480.90" r="3.7" fill="#A6002C" stroke="#96001F" stroke-width="0.8"/>
<circle cx="110.20" cy="499.30" r="3.7" fill="#A6002C" stroke="#96001F" stroke-width="0.8"/>
<circle cx="126.50" cy="559.20" r="3.7" fill="#A6002C" stroke="#96001F" stroke-width="0.8"/>
<circle cx="142.70" cy="593.60" r="3.7" fill="#A6002C" stroke="#96001F" stroke-width="0.8"/>
<circle cx="159.00" cy="605.30" r="3.7" fill="#A6002C" stroke="#96001F" stroke-width="0.8"/>
<circle cx="175.25" cy="594.40" r="3.7" fill="#A6002C" stroke="#96001F" stroke-width="0.8"/>
<circle cx="191.40" cy="578.00" r="3.7" fill="#A6002C" stroke="#96001F" stroke-width="0.8"/>
<circle cx="207.60" cy="538.00" r="3.7" fill="#A6002C" stroke="#96001F" stroke-width="0.8"/>
<circle cx="223.90" cy="498.80" r="3.7" fill="#A6002C" stroke="#96001F" stroke-width="0.8"/>
<circle cx="240.20" cy="478.40" r="3.7" fill="#A6002C" stroke="#96001F" stroke-width="0.8"/>
<circle cx="256.30" cy="456.20" r="3.7" fill="#A6002C" stroke="#96001F" stroke-width="0.8"/>
<circle cx="467.70" cy="508.30" r="3.7" fill="#A6002C" stroke="#96001F" stroke-width="0.8"/>
<path d="M61.50 493.30 L77.60 500.70 L79.90 503.50 L82.10 506.00 L86.90 511.30 L93.80 513.30 L110.20 513.50 L126.50 539.60 L142.70 571.10 L159.00 587.30 L175.25 586.90 L191.40 574.90 L207.60 537.10 L223.90 515.00 L240.20 507.50 L256.30 514.30 L272.60 507.20 L467.70 518.50" fill="none" stroke="#62A83C" stroke-width="2.2" stroke-linejoin="round"/>
<circle cx="61.50" cy="493.30" r="3.7" fill="#62A83C" stroke="#56992F" stroke-width="0.8"/>
<circle cx="77.60" cy="500.70" r="3.7" fill="#62A83C" stroke="#56992F" stroke-width="0.8"/>
<circle cx="79.90" cy="503.50" r="3.7" fill="#62A83C" stroke="#56992F" stroke-width="0.8"/>
<circle cx="82.10" cy="506.00" r="3.7" fill="#62A83C" stroke="#56992F" stroke-width="0.8"/>
<circle cx="86.90" cy="511.30" r="3.7" fill="#62A83C" stroke="#56992F" stroke-width="0.8"/>
<circle cx="110.20" cy="513.50" r="3.7" fill="#62A83C" stroke="#56992F" stroke-width="0.8"/>
<circle cx="126.50" cy="539.60" r="3.7" fill="#62A83C" stroke="#56992F" stroke-width="0.8"/>
<circle cx="142.70" cy="571.10" r="3.7" fill="#62A83C" stroke="#56992F" stroke-width="0.8"/>
<circle cx="159.00" cy="587.30" r="3.7" fill="#62A83C" stroke="#56992F" stroke-width="0.8"/>
<circle cx="175.25" cy="586.90" r="3.7" fill="#62A83C" stroke="#56992F" stroke-width="0.8"/>
<circle cx="191.40" cy="574.90" r="3.7" fill="#62A83C" stroke="#56992F" stroke-width="0.8"/>
<circle cx="207.60" cy="537.10" r="3.7" fill="#62A83C" stroke="#56992F" stroke-width="0.8"/>
<circle cx="223.90" cy="515.00" r="3.7" fill="#62A83C" stroke="#56992F" stroke-width="0.8"/>
<circle cx="240.20" cy="507.50" r="3.7" fill="#62A83C" stroke="#56992F" stroke-width="0.8"/>
<circle cx="256.30" cy="514.30" r="3.7" fill="#62A83C" stroke="#56992F" stroke-width="0.8"/>
<circle cx="272.60" cy="507.20" r="3.7" fill="#62A83C" stroke="#56992F" stroke-width="0.8"/>
<circle cx="467.70" cy="518.50" r="3.7" fill="#62A83C" stroke="#56992F" stroke-width="0.8"/>
<line x1="360.80" y1="66.20" x2="379.20" y2="66.20" stroke="#62A83C" stroke-width="2"/>
<circle cx="370.00" cy="66.20" r="3.7" fill="#62A83C" stroke="#56992F" stroke-width="0.8"/>
<text x="383.60" y="69.55" class="lg" textLength="80.2" lengthAdjust="spacingAndGlyphs">Arm 1 15 MBq/kg</text>
<line x1="360.80" y1="85.27" x2="379.20" y2="85.27" stroke="#A6002C" stroke-width="2"/>
<circle cx="370.00" cy="85.27" r="3.7" fill="#A6002C" stroke="#96001F" stroke-width="0.8"/>
<text x="383.60" y="88.62" class="lg" textLength="80.2" lengthAdjust="spacingAndGlyphs">Arm 1 20 MBq/kg</text>
<line x1="360.80" y1="104.34" x2="379.20" y2="104.34" stroke="#E38B0C" stroke-width="2"/>
<path d="M370.00 99.74L374.70 108.64L365.30 108.64Z" fill="#E38B0C"/>
<text x="383.60" y="107.69" class="lg" textLength="80.2" lengthAdjust="spacingAndGlyphs">Arm 2 15 MBq/kg</text>
<line x1="360.80" y1="123.41" x2="379.20" y2="123.41" stroke="#1E3776" stroke-width="2"/>
<path d="M370.00 119.51L374.20 127.21L365.80 127.21Z" fill="none" stroke="#1E3776" stroke-width="1.05"/>
<text x="383.60" y="126.76" class="lg" textLength="80.2" lengthAdjust="spacingAndGlyphs">Arm 3 15 MBq/kg</text>
<line x1="360.80" y1="142.48" x2="379.20" y2="142.48" stroke="#5CA4E2" stroke-width="2"/>
<rect x="367.00" y="139.48" width="6" height="6" fill="#5CA4E2"/>
<text x="383.60" y="145.83" class="lg" textLength="80.2" lengthAdjust="spacingAndGlyphs">Arm 4 20 MBq/kg</text>
<line x1="338.10" y1="387.30" x2="356.50" y2="387.30" stroke="#62A83C" stroke-width="2"/>
<circle cx="347.30" cy="387.30" r="3.7" fill="#62A83C" stroke="#56992F" stroke-width="0.8"/>
<text x="360.90" y="390.65" class="lg" textLength="80.2" lengthAdjust="spacingAndGlyphs">Arm 1 15 MBq/kg</text>
<line x1="338.10" y1="406.37" x2="356.50" y2="406.37" stroke="#A6002C" stroke-width="2"/>
<circle cx="347.30" cy="406.37" r="3.7" fill="#A6002C" stroke="#96001F" stroke-width="0.8"/>
<text x="360.90" y="409.72" class="lg" textLength="80.2" lengthAdjust="spacingAndGlyphs">Arm 1 20 MBq/kg</text>
<line x1="338.10" y1="425.44" x2="356.50" y2="425.44" stroke="#E38B0C" stroke-width="2"/>
<path d="M347.30 420.84L352.00 429.74L342.60 429.74Z" fill="#E38B0C"/>
<text x="360.90" y="428.79" class="lg" textLength="80.2" lengthAdjust="spacingAndGlyphs">Arm 2 15 MBq/kg</text>
<line x1="338.10" y1="444.51" x2="356.50" y2="444.51" stroke="#1E3776" stroke-width="2"/>
<path d="M347.30 440.61L351.50 448.31L343.10 448.31Z" fill="none" stroke="#1E3776" stroke-width="1.05"/>
<text x="360.90" y="447.86" class="lg" textLength="80.2" lengthAdjust="spacingAndGlyphs">Arm 3 15 MBq/kg</text>
<line x1="338.10" y1="463.58" x2="356.50" y2="463.58" stroke="#5CA4E2" stroke-width="2"/>
<rect x="344.30" y="460.58" width="6" height="6" fill="#5CA4E2"/>
<text x="360.90" y="466.93" class="lg" textLength="80.2" lengthAdjust="spacingAndGlyphs">Arm 4 20 MBq/kg</text>
<text x="264.9" y="313.1" class="ti" textLength="27.1" lengthAdjust="spacingAndGlyphs">Weeks</text>
<text x="259.4" y="654" class="ti" textLength="26.5" lengthAdjust="spacingAndGlyphs">Weeks</text>
<text transform="translate(31.6 227.9) rotate(-90)" class="ti" textLength="127.7" lengthAdjust="spacingAndGlyphs">Mean neutrophils x10<tspan font-size="9.5px" dy="-4.6">9</tspan><tspan dy="4.6">/L (±SD)</tspan></text>
<text transform="translate(25.9 556.8) rotate(-90)" class="ti" textLength="117.6" lengthAdjust="spacingAndGlyphs">Mean platelets x10<tspan font-size="9.5px" dy="-4.6">9</tspan><tspan dy="4.6">/L (±SD)</tspan></text>
</svg>
</body></html>
